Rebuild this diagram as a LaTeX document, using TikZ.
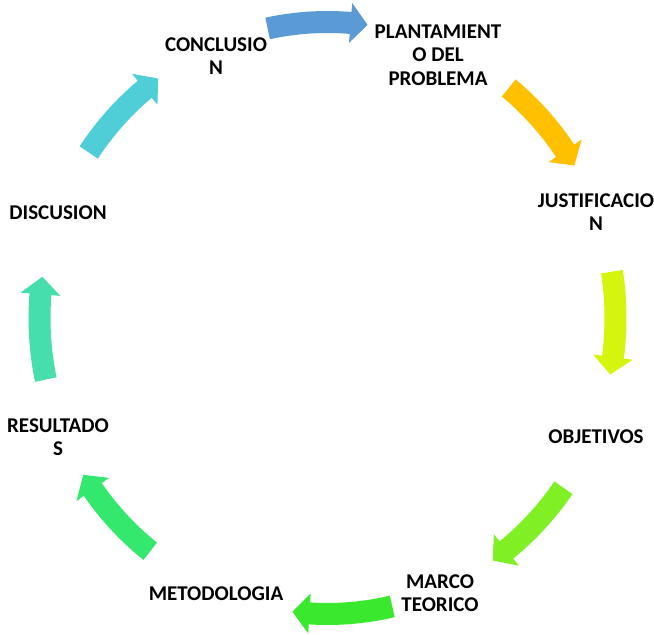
\documentclass[tikz,border=0pt]{standalone}
\usepackage{fontspec}
\setmainfont{Carlito}
\usetikzlibrary{positioning}

\definecolor{arrowA}{RGB}{91,155,213}
\definecolor{arrowB}{RGB}{255,192,0}
\definecolor{arrowC}{RGB}{213,245,15}
\definecolor{arrowD}{RGB}{128,240,36}
\definecolor{arrowE}{RGB}{58,232,46}
\definecolor{arrowF}{RGB}{52,232,110}
\definecolor{arrowG}{RGB}{70,222,172}
\definecolor{arrowH}{RGB}{80,206,216}

\begin{document}
\begin{tikzpicture}
            [x=1pt, y=1pt,
             stage/.style={font=\bfseries\fontsize{21}{23.5}\selectfont, align=center, inner sep=0pt},
             cycarrow/.pic={
               \fill[pic actions] (#1+10:299 and 307) arc (#1+10:#1-6.6:299 and 307)
                 -- (#1-6.6:308 and 316) -- (#1-10:288 and 296) -- (#1-6.6:268 and 276)
                 -- (#1-6.6:277 and 285) arc (#1-6.6:#1+10:277 and 285) -- cycle;
             }]
            \useasboundingbox (0,0) rectangle (654,635);
            \coordinate (c) at (327.5,317);

            \node[stage] (concl) at (216,579) {CONCLUSIO\\N};
            \node[stage] (plant) at (438,580) {PLANTAMIENT\\O DEL\\PROBLEMA};
            \node[stage] (justif) at (596,423) {JUSTIFICACIO\\N};
            \node[stage] (objet) at (596,198) {OBJETIVOS};
            \node[stage] (marco) at (440,42) {MARCO\\TEORICO};
            \node[stage] (metod) at (216,41) {METODOLOGIA};
            \node[stage] (result) at (58,198) {RESULTADO\\S};
            \node[stage] (discus) at (58,422) {DISCUSION};

            \pic[fill=arrowA] at (c) {cycarrow=92};
            \pic[fill=arrowB] at (c) {cycarrow=41};
            \pic[fill=arrowC] at (c) {cycarrow=-1};
            \pic[fill=arrowD] at (c) {cycarrow=-45};
            \pic[fill=arrowE] at (c) {cycarrow=-87};
            \pic[fill=arrowF] at (c) {cycarrow=-138};
            \pic[fill=arrowG] at (c) {cycarrow=-178};
            \pic[fill=arrowH] at (c) {cycarrow=-224};
        \end{tikzpicture}
\end{document}
